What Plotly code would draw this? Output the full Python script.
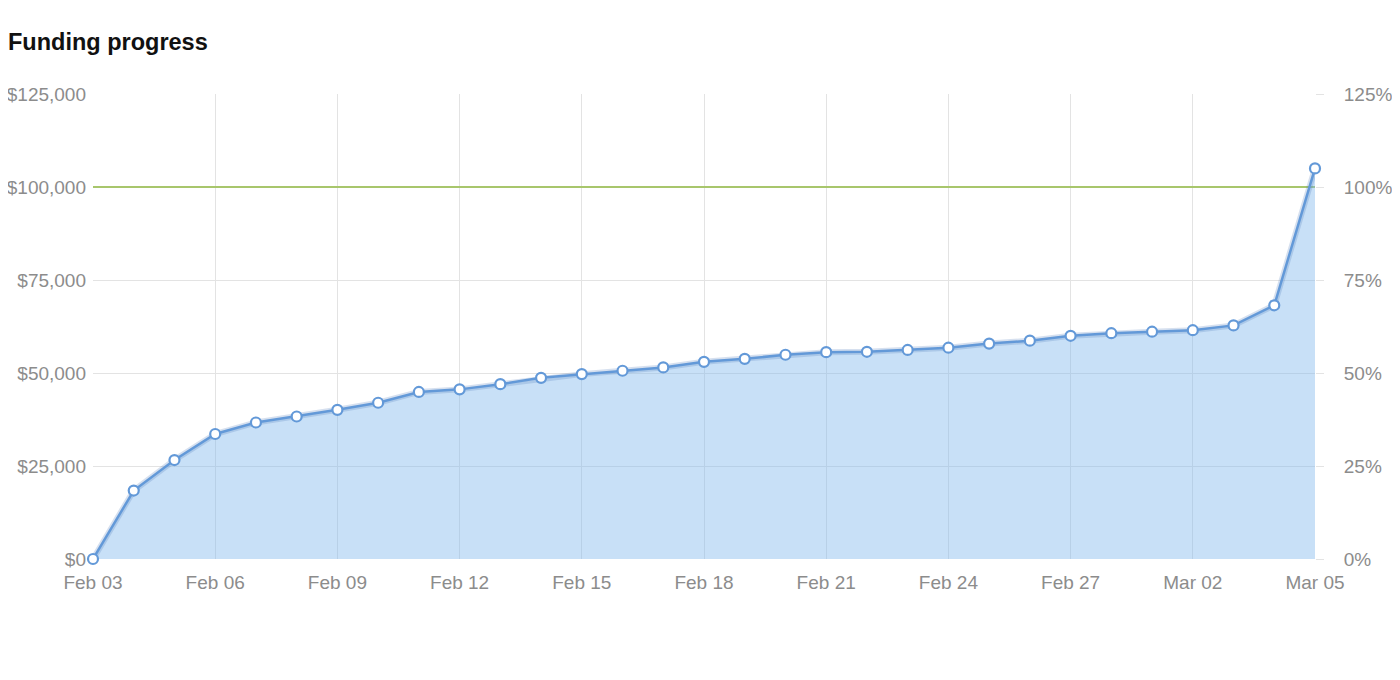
import plotly.graph_objects as go
import pandas as pd

dates = pd.date_range("2014-02-03", "2014-03-05", freq="D")
funding = [0, 18400, 26600, 33600, 36700, 38300, 40100, 42000, 44900, 45600,
           47000, 48700, 49700, 50600, 51500, 53000, 53800, 54900, 55600, 55700,
           56200, 56800, 57900, 58700, 60000, 60700, 61100, 61500, 62800, 68200,
           105000]
goal = 100000
x_tick_dates = ["2014-02-03", "2014-02-06", "2014-02-09", "2014-02-12", "2014-02-15",
                "2014-02-18", "2014-02-21", "2014-02-24", "2014-02-27", "2014-03-02",
                "2014-03-05"]
x_tick_labels = ["Feb 03", "Feb 06", "Feb 09", "Feb 12", "Feb 15", "Feb 18",
                 "Feb 21", "Feb 24", "Feb 27", "Mar 02", "Mar 05"]
y_ticks = [0, 25000, 50000, 75000, 100000, 125000]
y_tick_labels = ["$0", "$25,000", "$50,000", "$75,000", "$100,000", "$125,000"]
pct_ticks = [0, 25, 50, 75, 100, 125]
pct_labels = ["0%", "25%", "50%", "75%", "100%", "125%"]

LINE = "#6399d8"
FONT = "Liberation Sans, Arial, Helvetica, sans-serif"
GRAY = "#8c8c8c"
TICK_SIZE = 19

fig = go.Figure()

# percent axis helper (invisible)
fig.add_trace(go.Scatter(
    x=dates, y=[v / goal * 100 for v in funding], yaxis="y2",
    mode="lines", line=dict(color="rgba(0,0,0,0)"), hoverinfo="skip", showlegend=False))

# goal line
fig.add_trace(go.Scatter(
    x=[dates[0], dates[-1]], y=[goal, goal], mode="lines",
    line=dict(color="#a8c66c", width=2), hoverinfo="skip", showlegend=False))

# funding area
fig.add_trace(go.Scatter(
    x=dates, y=funding, mode="lines", fill="tozeroy",
    fillcolor="rgba(124,181,236,0.42)",
    line=dict(color="rgba(70,115,180,0.22)", width=6),
    hoverinfo="skip", showlegend=False))
fig.add_trace(go.Scatter(
    x=dates, y=funding, mode="lines+markers",
    line=dict(color=LINE, width=2.5),
    marker=dict(size=10, color="white", line=dict(color=LINE, width=2.2)),
    cliponaxis=False, showlegend=False))

fig.update_layout(
    width=1400, height=680,
    margin=dict(l=85, r=93, t=86, b=129),
    paper_bgcolor="white", plot_bgcolor="white",
    font=dict(family=FONT, color=GRAY, size=TICK_SIZE),
    title=dict(text="<b>Funding progress</b>", x=0.0, xanchor="left",
               y=1 - 34 / 680, yanchor="middle",
               font=dict(family=FONT, size=23.5, color="#111111")),
    xaxis=dict(
        type="date", range=[dates[0], dates[-1]], automargin=False,
        tickvals=x_tick_dates, ticktext=x_tick_labels,
        showgrid=True, gridcolor="#e3e3e3", gridwidth=1,
        zeroline=False, showline=False, ticks="", ticklabelstandoff=10,
        tickfont=dict(family=FONT, size=TICK_SIZE, color=GRAY)),
    yaxis=dict(
        range=[0, 125000], tickvals=y_ticks, ticktext=y_tick_labels,
        automargin=False,
        showgrid=True, gridcolor="#e3e3e3", gridwidth=1,
        zeroline=False, showline=False, ticks="", ticklabelstandoff=6,
        tickfont=dict(family=FONT, size=TICK_SIZE, color=GRAY)),
    yaxis2=dict(
        overlaying="y", side="right", range=[0, 125], tickvals=pct_ticks,
        ticktext=pct_labels, showgrid=False, zeroline=False, showline=False,
        automargin=False,
        ticks="outside", ticklen=8, tickcolor="#e3e3e3", ticklabelstandoff=16,
        tickfont=dict(family=FONT, size=TICK_SIZE, color=GRAY)),
)

fig.write_html("out.html")
